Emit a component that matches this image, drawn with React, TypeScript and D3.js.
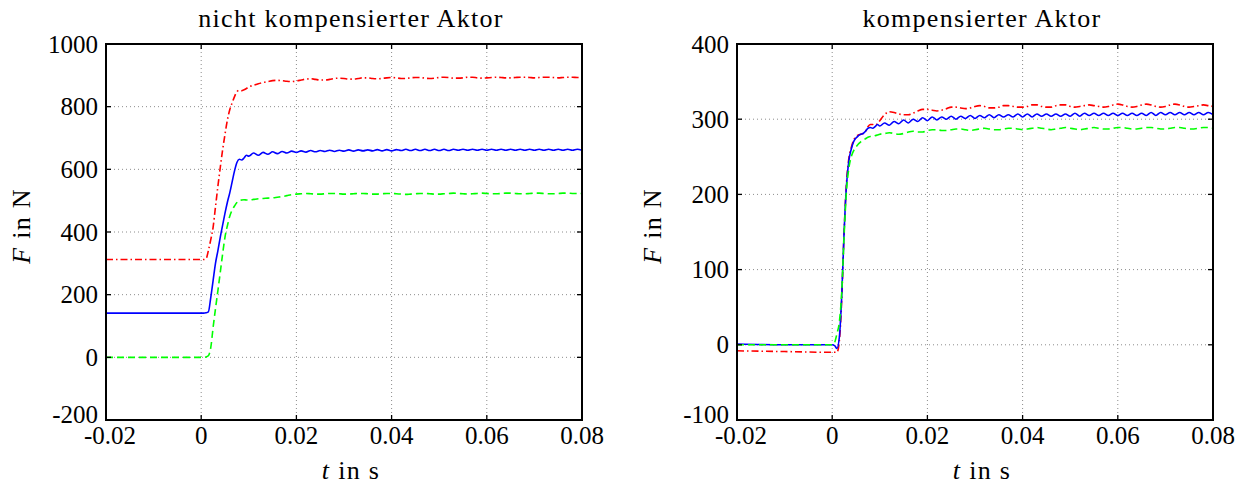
import React, { useEffect, useRef } from 'react';
import * as d3 from 'd3';

// sample times (s): dense around the step, then every ms
const tStep = [-0.02, -0.01, 0, 0.0005, 0.001, 0.0015, 0.002, 0.0025, 0.003, 0.0035, 0.004, 0.0045,
  0.005, 0.0055, 0.006, 0.0065, 0.007, 0.0075, 0.008, 0.0085, 0.009, 0.0095, 0.01];
const tTail = [
  0.011, 0.012, 0.013, 0.014, 0.015, 0.016, 0.017, 0.018, 0.019, 0.02,
  0.021, 0.022, 0.023, 0.024, 0.025, 0.026, 0.027, 0.028, 0.029, 0.03,
  0.031, 0.032, 0.033, 0.034, 0.035, 0.036, 0.037, 0.038, 0.039, 0.04,
  0.041, 0.042, 0.043, 0.044, 0.045, 0.046, 0.047, 0.048, 0.049, 0.05,
  0.051, 0.052, 0.053, 0.054, 0.055, 0.056, 0.057, 0.058, 0.059, 0.06,
  0.061, 0.062, 0.063, 0.064, 0.065, 0.066, 0.067, 0.068, 0.069, 0.07,
  0.071, 0.072, 0.073, 0.074, 0.075, 0.076, 0.077, 0.078, 0.079, 0.08];
const time = tStep.concat(tTail);

const xTicks = [-0.02, 0, 0.02, 0.04, 0.06, 0.08];
const xTickLabels = ['-0.02', '0', '0.02', '0.04', '0.06', '0.08'];

// --- nicht kompensierter Aktor (N)
const leftTicks = [-200, 0, 200, 400, 600, 800, 1000];
const leftRedStep = [312, 312, 312, 312, 314, 340, 375, 415, 480, 545, 605, 662, 712, 757, 790, 812, 832, 848, 852, 851, 854, 858, 863];
const leftRedTail = [
  868, 873, 877, 880, 883, 884, 883, 881, 880, 882,
  885, 888, 889, 887, 885, 885, 887, 890, 891, 890,
  888, 888, 890, 892, 892, 890, 889, 890, 892, 893,
  892, 890, 890, 892, 893, 893, 891, 890, 891, 893,
  894, 893, 891, 891, 892, 894, 894, 892, 891, 892,
  893, 894, 893, 892, 892, 893, 894, 894, 893, 892,
  893, 894, 894, 893, 892, 893, 894, 894, 893, 893];
const leftBlueStep = [141, 141, 141, 141, 142, 145, 190, 245, 300, 340, 383, 422, 460, 495, 525, 560, 595, 622, 632, 630, 636, 645, 642];
const leftBlueTail = [
  652, 645, 654, 648, 656, 650, 657, 652, 658, 654,
  659, 655, 660, 656, 660, 657, 661, 657, 661, 658,
  662, 658, 662, 659, 662, 659, 663, 659, 663, 659,
  663, 660, 664, 660, 664, 660, 664, 660, 664, 660,
  664, 660, 664, 661, 664, 661, 664, 661, 664, 661,
  664, 661, 664, 661, 664, 661, 664, 661, 664, 661,
  664, 661, 664, 661, 664, 661, 664, 661, 664, 661];
const leftGreenStep = [0, 0, 0, 0, 1, 5, 30, 95, 155, 212, 270, 330, 384, 420, 450, 470, 483, 494, 500, 502, 503, 502, 502];
const leftGreenTail = [
  504, 506, 507, 508, 509, 511, 513, 516, 519, 521,
  522, 523, 522, 521, 521, 522, 523, 523, 522, 521,
  521, 522, 523, 523, 522, 521, 521, 522, 523, 523,
  522, 521, 520, 521, 522, 523, 523, 522, 521, 521,
  522, 523, 524, 523, 522, 521, 522, 523, 524, 523,
  522, 522, 523, 524, 524, 523, 522, 522, 523, 524,
  524, 523, 522, 522, 523, 524, 524, 523, 523, 523];

// --- kompensierter Aktor (N)
const rightTicks = [-100, 0, 100, 200, 300, 400];
const rightRedStep = [-8, -9, -10, -10, -10, 5, 60, 150, 215, 248, 262, 272, 277, 279, 280, 281, 284, 290, 293, 293, 292, 294, 298];
const rightRedTail = [
  306, 310, 309, 307, 306, 306, 308, 311, 313, 313,
  312, 311, 312, 314, 316, 316, 315, 314, 315, 317,
  318, 317, 315, 315, 316, 318, 318, 317, 316, 316,
  317, 319, 319, 317, 316, 316, 318, 319, 319, 317,
  316, 317, 318, 319, 318, 317, 316, 317, 319, 320,
  319, 317, 316, 317, 319, 320, 319, 317, 316, 317,
  319, 320, 319, 317, 316, 317, 318, 319, 318, 317];
const rightBlueStep = [1, 0, 0, -1, -5, 10, 65, 150, 212, 245, 260, 270, 275, 278, 280, 281, 284, 288, 289, 288, 290, 293, 291];
const rightBlueTail = [
  295, 292, 297, 294, 299, 295, 300, 297, 302, 298,
  303, 299, 303, 300, 304, 300, 304, 301, 305, 301,
  305, 302, 306, 302, 306, 303, 306, 303, 307, 303,
  307, 303, 307, 304, 307, 304, 307, 304, 307, 304,
  308, 304, 308, 305, 308, 305, 308, 305, 308, 305,
  308, 305, 308, 305, 308, 305, 309, 305, 309, 306,
  309, 306, 309, 306, 309, 306, 309, 306, 309, 306];
const rightGreenStep = [0, 0, 0, 3, 15, 30, 70, 145, 205, 235, 250, 258, 263, 267, 270, 272, 274, 276, 277, 277, 278, 279, 280];
const rightGreenTail = [
  281, 282, 281, 280, 281, 283, 284, 283, 283, 285,
  286, 286, 285, 285, 286, 287, 287, 286, 285, 286,
  287, 288, 287, 286, 286, 287, 288, 288, 287, 286,
  287, 288, 289, 288, 287, 286, 287, 288, 289, 288,
  287, 286, 287, 288, 289, 288, 287, 287, 288, 289,
  289, 288, 287, 287, 288, 289, 289, 288, 287, 287,
  288, 289, 289, 288, 287, 287, 288, 289, 289, 288];

const FONT = '"Liberation Serif", "DejaVu Serif", serif';
const TOP = 44;
const BOTTOM = 420;

type Series = { values: number[]; color: string; dash: string | null };

function Panel(props: {
  id: string; left: number; right: number; yDomain: [number, number];
  yTicks: number[]; title: string; series: Series[];
}) {
  const ref = useRef<SVGGElement>(null);

  useEffect(() => {
    const { id, left, right, yDomain, yTicks, title, series } = props;
    const g = d3.select(ref.current);
    g.selectAll('*').remove();

    const x = d3.scaleLinear().domain([-0.02, 0.08]).range([left, right]);
    const y = d3.scaleLinear().domain(yDomain).range([BOTTOM, TOP]);

    g.append('clipPath').attr('id', id)
      .append('rect')
      .attr('x', left).attr('y', TOP)
      .attr('width', right - left).attr('height', BOTTOM - TOP);

    // dotted grid
    const grid = g.append('g').attr('stroke', '#8c8c8c').attr('stroke-width', 1)
      .attr('stroke-dasharray', '1,3');
    grid.selectAll('.gx').data(xTicks.slice(1, -1)).enter().append('line')
      .attr('x1', d => x(d)).attr('x2', d => x(d))
      .attr('y1', TOP).attr('y2', BOTTOM);
    grid.selectAll('.gy').data(yTicks.slice(1, -1)).enter().append('line')
      .attr('x1', left).attr('x2', right)
      .attr('y1', d => y(d)).attr('y2', d => y(d));

    // curves
    const line = d3.line<number>()
      .x((d, i) => x(time[i]))
      .y(d => y(d))
      .curve(d3.curveMonotoneX);
    const plot = g.append('g').attr('clip-path', `url(#${id})`);
    series.forEach(s => {
      plot.append('path')
        .attr('d', line(s.values))
        .attr('fill', 'none')
        .attr('stroke', s.color)
        .attr('stroke-width', 1.6)
        .attr('stroke-dasharray', s.dash)
    });

    // ticks on all four sides, pointing inwards
    const tk = g.append('g').attr('stroke', '#000').attr('stroke-width', 1.3);
    xTicks.forEach(d => {
      tk.append('line').attr('x1', x(d)).attr('x2', x(d)).attr('y1', BOTTOM).attr('y2', BOTTOM - 5);
      tk.append('line').attr('x1', x(d)).attr('x2', x(d)).attr('y1', TOP).attr('y2', TOP + 5);
    });
    yTicks.forEach(d => {
      tk.append('line').attr('x1', left).attr('x2', left + 5).attr('y1', y(d)).attr('y2', y(d));
      tk.append('line').attr('x1', right).attr('x2', right - 5).attr('y1', y(d)).attr('y2', y(d));
    });

    g.append('rect')
      .attr('x', left).attr('y', TOP)
      .attr('width', right - left).attr('height', BOTTOM - TOP)
      .attr('fill', 'none').attr('stroke', '#000').attr('stroke-width', 2);

    // tick labels
    const txt = g.append('g').attr('font-family', FONT).attr('font-size', 25).attr('fill', '#000');
    xTicks.forEach((d, i) => {
      txt.append('text').attr('x', x(d) + (i === 0 ? 4 : 0)).attr('y', 444)
        .attr('text-anchor', 'middle').text(xTickLabels[i]);
    });
    yTicks.forEach(d => {
      txt.append('text').attr('x', left - 8).attr('y', y(d) - (d === yTicks[0] ? 6 : 0))
        .attr('text-anchor', 'end').attr('dominant-baseline', 'central').text(String(d));
    });

    // titles and axis labels (wider spacing, closer to the TeX look)
    const lab = g.append('g').attr('font-family', FONT).attr('font-size', 26)
      .attr('letter-spacing', 1.3).attr('fill', '#000');
    const mid = (left + right) / 2 + 7;
    lab.append('text').attr('x', mid).attr('y', 27).attr('text-anchor', 'middle').text(title);

    const xl = lab.append('text').attr('x', mid).attr('y', 479).attr('text-anchor', 'middle');
    xl.append('tspan').attr('font-style', 'italic').text('t');
    xl.append('tspan').text(' in s');

    const yl = lab.append('text')
      .attr('transform', `translate(${left - 76},${(TOP + BOTTOM) / 2 - 6}) rotate(-90)`)
      .attr('text-anchor', 'middle');
    yl.append('tspan').attr('font-style', 'italic').text('F');
    yl.append('tspan').text(' in N');
  }, []);

  return <g ref={ref} />;
}

export default function App() {
  const red = '#ff0000', blue = '#0000ff', green = '#00ff00';
  const dashDot = '7,3,1.5,3', dashed = '7,4';
  return (
    <svg width={1252} height={486} style={{ position: 'absolute', left: 0, top: 0, background: '#fff' }}>
      <Panel id="clipL" left={106} right={582} yDomain={[-200, 1000]} yTicks={leftTicks}
        title="nicht kompensierter Aktor"
        series={[
          { values: leftRedStep.concat(leftRedTail), color: red, dash: dashDot },
          { values: leftBlueStep.concat(leftBlueTail), color: blue, dash: null },
          { values: leftGreenStep.concat(leftGreenTail), color: green, dash: dashed },
        ]} />
      <Panel id="clipR" left={737} right={1213} yDomain={[-100, 400]} yTicks={rightTicks}
        title="kompensierter Aktor"
        series={[
          { values: rightRedStep.concat(rightRedTail), color: red, dash: dashDot },
          { values: rightBlueStep.concat(rightBlueTail), color: blue, dash: null },
          { values: rightGreenStep.concat(rightGreenTail), color: green, dash: dashed },
        ]} />
    </svg>
  );
}
